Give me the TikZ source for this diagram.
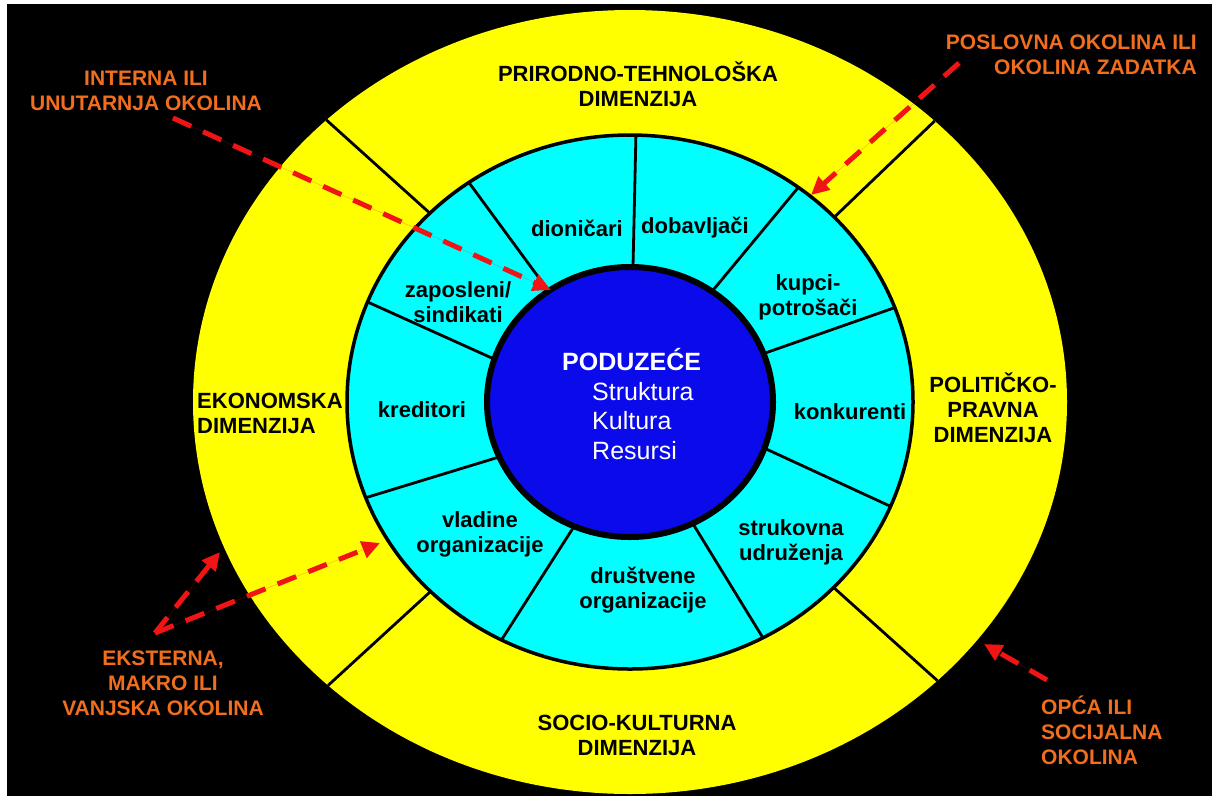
\documentclass[tikz,border=0pt]{standalone}
\usepackage{fontspec}
\setmainfont{Liberation Sans}
\usetikzlibrary{calc,arrows.meta}
\definecolor{ringyellow}{RGB}{255,255,0}
\definecolor{ringcyan}{RGB}{0,255,255}
\definecolor{coreblue}{RGB}{10,10,235}
\definecolor{lblorange}{RGB}{240,110,30}
\definecolor{arrred}{RGB}{240,20,20}
\begin{document}
\begin{tikzpicture}[x=1pt,y=-1pt,
  dimlbl/.style={font=\fontsize{22}{25}\selectfont\bfseries, text=black, align=center, inner sep=0pt},
  seglbl/.style={font=\fontsize{22}{25}\selectfont\bfseries, text=black, align=center, inner sep=0pt},
  envlbl/.style={font=\fontsize{21}{25}\selectfont\bfseries, text=lblorange, inner sep=0pt},
  divline/.style={line width=2.8pt, draw=black},
  redarrow/.style={draw=arrred, fill=arrred, line width=5pt, dash pattern=on 20pt off 13pt, -{Triangle[length=18pt,width=17pt]}}]
\useasboundingbox (0,0) rectangle (1212,796);
\fill[white] (0,0) rectangle (1212,796);
\fill[black] (7,4) rectangle (1212,796);
\coordinate (O) at (630,402);
% rings
\fill[ringyellow] (O) ellipse [x radius=437pt, y radius=392pt];
\fill[ringcyan] (O) ellipse [x radius=283pt, y radius=267pt];
\foreach \a/\b in {88.8/88.8, 55/53.5, 21/20.7, -20/-23, -64/-62, -113/-117, 204/201, 161.5/158, 124.7/124.7}
  \draw[divline] ($(O)+(\a:143pt and 135pt)$) -- ($(O)+(\b:283pt and 267pt)$);
\foreach \a/\b in {135/134, 43.8/45.8, 225.2/226.3, -44/-45.3}
  \draw[divline] ($(O)+(\a:283pt and 267pt)$) -- ($(O)+(\b:437pt and 392pt)$);
\draw[black, line width=3.5pt] (O) ellipse [x radius=283pt, y radius=267pt];
\filldraw[fill=coreblue, draw=black, line width=6pt] (O) ellipse [x radius=143pt, y radius=135pt];
% centre text
\node[font=\fontsize{25}{29}\selectfont\bfseries, text=white, anchor=west, inner sep=0pt] (pod) at (562,360) {PODUZEĆE};
\node[font=\fontsize{25}{29.5}\selectfont, text=white, align=left, anchor=west, inner sep=0pt] (skr) at (592,421) {Struktura\\Kultura\\Resursi};
% segment labels
\node[seglbl] (dion) at (577,228) {dioničari};
\node[seglbl] (dobav) at (695,228) {dobavljači};
\node[seglbl] (kupci) at (808,297) {kupci-\\potrošači};
\node[seglbl] (konk) at (850,412) {konkurenti};
\node[seglbl] (struk) at (791,542) {strukovna\\udruženja};
\node[seglbl] (drus) at (643,590) {društvene\\organizacije};
\node[seglbl] (vlad) at (480,534) {vladine\\organizacije};
\node[seglbl] (kred) at (422,410) {kreditori};
\node[seglbl] (zap) at (458,302) {zaposleni/\\sindikati};
% dimension labels
\node[dimlbl] (prir) at (638,84) {PRIRODNO-TEHNOLOŠKA\\DIMENZIJA};
\node[dimlbl, align=left, anchor=west] (ekon) at (197,413) {EKONOMSKA\\DIMENZIJA};
\node[dimlbl] (polit) at (993,408) {POLITIČKO-\\PRAVNA\\DIMENZIJA};
\node[dimlbl] (socio) at (637,735) {SOCIO-KULTURNA\\DIMENZIJA};
% environment labels
\node[envlbl, align=center] (interna) at (146,91) {INTERNA ILI\\UNUTARNJA OKOLINA};
\node[envlbl, align=right, anchor=east] (poslovna) at (1197,55) {POSLOVNA OKOLINA ILI\\OKOLINA ZADATKA};
\node[envlbl, align=center] (eksterna) at (163,683) {EKSTERNA,\\MAKRO ILI\\VANJSKA OKOLINA};
\node[envlbl, align=left, anchor=west] (opca) at (1041,730) {OPĆA ILI\\SOCIJALNA\\OKOLINA};
% arrow end points
\coordinate (a1s) at (173,118);
\coordinate (a1e) at (551,290);
\coordinate (a2s) at (959,63);
\coordinate (a2e) at (811,195);
\coordinate (vx) at (155,633);
\coordinate (a3e) at (220,552);
\coordinate (a4e) at (380,543);
\coordinate (a5s) at (1047,680);
\coordinate (a5e) at (984,644);
\draw[redarrow] (a1s) -- (a1e);
\draw[redarrow] (a2s) -- (a2e);
\draw[redarrow] (vx) -- (a3e);
\draw[redarrow] (vx) -- (a4e);
\draw[redarrow] (a5s) -- (a5e);
\end{tikzpicture}
\end{document}
